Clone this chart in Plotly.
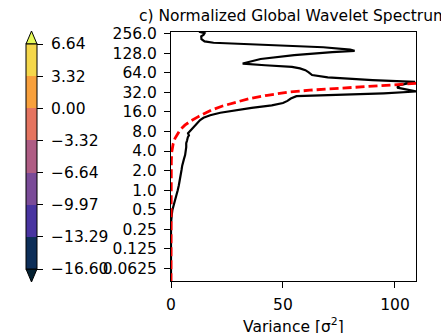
import plotly.graph_objects as go

# ---- data ----
period_gws = [274.0, 259.5, 243.9, 232.3, 210.8, 194.0, 184.8, 178.5, 168.9, 157.6,
              145.0, 139.1, 132.5, 119.4, 104.0, 88.6, 83.3, 78.8, 74.5, 70.0,
              64.9, 58.9, 54.2, 49.2, 46.2, 43.7, 41.1, 37.8, 35.3, 32.9,
              30.9, 29.2, 27.9, 25.6, 23.6, 21.9, 20.1, 18.4, 17.0, 15.5,
              14.2, 13.0, 12.0, 10.6, 9.19, 8.40, 7.52, 6.96, 6.50, 5.86,
              5.28, 4.59, 4.0, 3.46, 3.03, 2.73, 2.38, 2.04, 1.74, 1.43,
              1.19, 1.0, 0.84, 0.70, 0.59, 0.49, 0.42, 0.37, 0.31, 0.177,
              0.088, 0.0385]
variance_gws = [12.5, 15.0, 14.5, 13.5, 13.6, 15.0, 19.0, 30.0, 50.0, 68.0,
                80.0, 82.0, 72.0, 55.0, 40.0, 32.0, 42.0, 54.0, 57.6, 60.0,
                61.5, 63.0, 70.0, 90.0, 109.0, 106.0, 102.0, 101.0, 106.0, 109.5,
                95.0, 75.0, 56.0, 53.5, 52.0, 50.0, 45.0, 36.0, 30.0, 22.0,
                17.5, 14.5, 13.0, 11.5, 10.0, 8.5, 7.6, 8.0, 7.5, 7.2,
                6.8, 6.8, 6.6, 6.3, 5.8, 5.4, 5.0, 4.7, 4.4, 4.0,
                3.5, 3.0, 2.4, 1.8, 1.2, 0.6, 0.35, 0.15, 0.02, 0.0,
                0.0, 0.0]

period_sig = [0.0385, 0.25, 1.0, 2.0, 2.83, 3.89, 4.59, 5.24, 6.28, 7.46,
              8.40, 9.99, 11.7, 13.4, 15.5, 17.0, 19.7, 22.6, 25.6, 28.8,
              32.0, 34.5, 37.3, 40.8, 43.7, 45.3, 48.5, 53.8]
variance_sig = [0.0, 0.0, 0.02, 0.08, 0.15, 0.35, 0.6, 1.0, 1.8, 3.0,
                4.0, 6.2, 9.0, 12.0, 15.5, 18.0, 23.0, 29.0, 35.0, 43.0,
                52.0, 62.0, 76.0, 91.0, 102.0, 108.0, 122.0, 150.0]

period_ticks = [0.0625, 0.125, 0.25, 0.5, 1, 2, 4, 8, 16, 32, 64, 128, 256]
period_tick_text = ["0.0625", "0.125", "0.25", "0.5", "1.0", "2.0", "4.0", "8.0",
                    "16.0", "32.0", "64.0", "128.0", "256.0"]

cbar_levels = [-16.60, -13.29, -9.97, -6.64, -3.32, 0.00, 3.32, 6.64]
cbar_text = ["\u221216.60", "\u221213.29", "\u22129.97", "\u22126.64", "\u22123.32",
             "0.00", "3.32", "6.64"]
cbar_colors = ["rgb(13,46,88)", "rgb(72,52,160)", "rgb(122,75,152)", "rgb(175,93,132)",
               "rgb(228,116,96)", "rgb(248,160,60)", "rgb(245,215,75)"]
cbar_under = "rgb(4,33,50)"
cbar_over = "rgb(231,250,90)"

FONT = "DejaVu Sans"
FS = 15.5

W, H = 441, 333
ML, MR, MT, MB = 171, 25, 32, 52
PW, PH = W - ML - MR, H - MT - MB


def px2paper(x, y):
    return (x - ML) / PW, (H - MB - y) / PH


fig = go.Figure()

fig.add_trace(go.Scatter(x=variance_gws, y=period_gws, mode="lines",
                         line=dict(color="black", width=2.2), showlegend=False,
                         hoverinfo="skip"))
fig.add_trace(go.Scatter(x=variance_sig, y=period_sig, mode="lines",
                         line=dict(color="#ff0000", width=2.8, dash="9px,4px"),
                         showlegend=False, hoverinfo="skip"))

# discrete colorscale
n = len(cbar_colors)
cs = []
for i, c in enumerate(cbar_colors):
    cs.append([i / n, c])
    cs.append([(i + 1) / n, c])

cb_left, cb_right, cb_top, cb_bot = 26, 37, 44, 269
cbx, _ = px2paper(cb_left, 0)
_, cby = px2paper(0, (cb_top + cb_bot) / 2)
fig.add_trace(go.Scatter(
    x=[None], y=[None], mode="markers", showlegend=False, hoverinfo="skip",
    marker=dict(color=[0], colorscale=cs, cmin=cbar_levels[0], cmax=cbar_levels[-1],
                showscale=True,
                colorbar=dict(x=cbx, xanchor="left", xpad=0, ypad=0,
                              y=cby, yanchor="middle",
                              thickness=cb_right - cb_left,
                              len=cb_bot - cb_top, lenmode="pixels",
                              outlinewidth=1, outlinecolor="black",
                              tickvals=cbar_levels,
                              ticktext=["\u00a0" + t for t in cbar_text],
                              ticks="outside", ticklen=6, tickwidth=1,
                              tickcolor="black",
                              tickfont=dict(family=FONT, size=FS, color="black")))))

# extension triangles
xl, yt = px2paper(cb_left, cb_top)
xr, _ = px2paper(cb_right, cb_top)
xm, ytip = px2paper((cb_left + cb_right) / 2, 31)
_, yb = px2paper(0, cb_bot)
_, ybtip = px2paper(0, 282)
fig.add_shape(type="path", xref="paper", yref="paper",
              path=f"M {xl},{yt} L {xr},{yt} L {xm},{ytip} Z",
              fillcolor=cbar_over, line=dict(color="black", width=1))
fig.add_shape(type="path", xref="paper", yref="paper",
              path=f"M {xl},{yb} L {xr},{yb} L {xm},{ybtip} Z",
              fillcolor=cbar_under, line=dict(color="black", width=1))

# x-axis title
_, ytitle = px2paper(0, 325)
fig.add_annotation(text="Variance [\u03c3<sup>2</sup>]", xref="paper", yref="paper",
                   x=0.5, y=ytitle, xanchor="center", yanchor="middle",
                   showarrow=False, font=dict(family=FONT, size=FS, color="black"))

fig.update_layout(
    width=W, height=H,
    margin=dict(l=ML, r=MR, t=MT, b=MB, autoexpand=False),
    paper_bgcolor="white", plot_bgcolor="white",
    font=dict(family=FONT, size=FS, color="black"),
    title=dict(text="c) Normalized Global Wavelet Spectrum", x=0.5, xref="paper",
               xanchor="center", y=1 - 16 / H, yref="container", yanchor="middle",
               font=dict(family=FONT, size=FS, color="black")),
    xaxis=dict(range=[0, 109.4], tickvals=[0, 50, 100], ticks="outside", ticklen=6,
               tickwidth=1, tickcolor="black", showgrid=False, zeroline=False,
               showline=True, linecolor="black", linewidth=1, mirror=True,
               ticklabelstandoff=3, automargin=False,
               tickfont=dict(family=FONT, size=FS)),
    yaxis=dict(type="log", range=[-4.64 * 0.30103, 8.08 * 0.30103],
               tickvals=period_ticks, ticktext=period_tick_text,
               ticks="outside", ticklen=6, tickwidth=1, tickcolor="black",
               ticklabelstandoff=4, automargin=False,
               showgrid=False, zeroline=False, showline=True, linecolor="black",
               linewidth=1, mirror=True, tickfont=dict(family=FONT, size=FS)),
)

fig.write_html("out.html")
